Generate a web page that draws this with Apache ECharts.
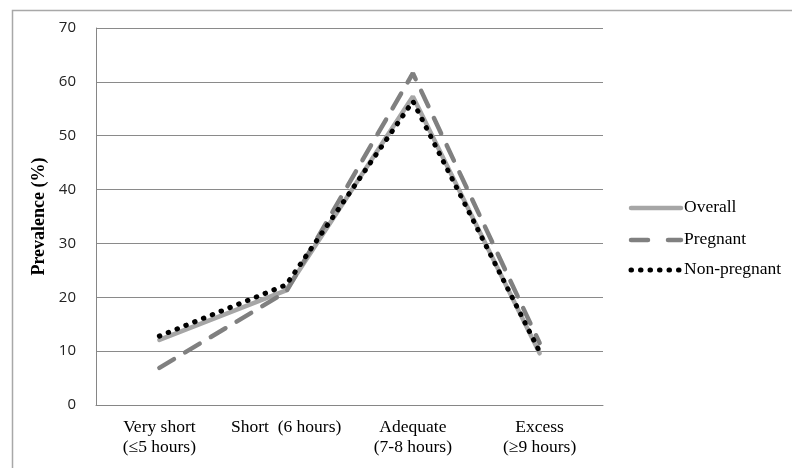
<!DOCTYPE html>
<html><head><meta charset="utf-8">
<script src="https://cdn.jsdelivr.net/npm/echarts@6/dist/echarts.min.js"></script>
<style>html,body{margin:0;padding:0;background:#fff}#c{width:792px;height:468px}</style>
</head><body><div id="c"></div>
<script>
const categories = ['Very short\n(≤5 hours)', 'Short  (6 hours)', 'Adequate\n(7-8 hours)', 'Excess\n(≥9 hours)'];
const overall = [12.1, 21.3, 57.3, 9.6];
const pregnant = [6.9, 21.0, 61.6, 11.5];
const nonPregnant = [12.8, 22.3, 56.4, 9.9];
const yTicks = [0, 10, 20, 30, 40, 50, 60, 70];
const seriesNames = ['Overall', 'Pregnant', 'Non-pregnant'];

const styles = [
  {color: '#a6a6a6', width: 4.5, type: 'solid'},
  {color: '#808080', width: 4.5, type: [17, 13]},
  {color: '#000', width: 5, type: [0.5, 9]}
];
const legendY = [208, 240, 270];

const graphics = [{
  type: 'rect', left: 10, top: 8, shape: {width: 800, height: 480},
  style: {fill: 'none', stroke: '#a8a8a8', lineWidth: 1.5}, z: -1
}];
seriesNames.forEach((n, i) => {
  graphics.push({
    type: 'line', shape: {x1: 631, y1: legendY[i], x2: 681, y2: legendY[i]},
    style: {stroke: styles[i].color, lineWidth: styles[i].width,
      lineDash: styles[i].type === 'solid' ? null : (i === 1 ? [17, 20] : [0.5, 9]), lineCap: 'round'}
  });
  graphics.push({
    type: 'text', left: 684, top: legendY[i] - 10,
    style: {text: n, font: '17.5px "Liberation Serif"', fill: '#000'}
  });
});

const chart = echarts.init(document.getElementById('c'), null, {renderer: 'canvas'});
chart.setOption({
  animation: false,
  backgroundColor: '#fff',
  graphic: graphics,
  grid: {left: 96, right: 189, top: 28, bottom: 63},
  xAxis: {
    type: 'category', data: categories, boundaryGap: true,
    axisLine: {lineStyle: {color: '#868686', width: 1}},
    axisTick: {show: false},
    axisLabel: {fontFamily: 'Liberation Serif', fontSize: 17.5, color: '#000', lineHeight: 20, margin: 12, interval: 0}
  },
  yAxis: {
    type: 'value', min: 0, max: 70, interval: 10,
    name: 'Prevalence (%)', nameLocation: 'middle', nameGap: 45,
    nameTextStyle: {fontFamily: 'Liberation Serif', fontWeight: 'bold', fontSize: 18, color: '#000'},
    axisLine: {show: true, lineStyle: {color: '#868686', width: 1}},
    axisTick: {show: false},
    axisLabel: {fontFamily: 'Open Sans', fontSize: 15, color: '#222', margin: 20,
      formatter: v => yTicks.includes(v) ? String(v) : ''},
    splitLine: {lineStyle: {color: '#8a8a8a', width: 1}}
  },
  series: [overall, pregnant, nonPregnant].map((d, i) => ({
    name: seriesNames[i], type: 'line', data: d, symbol: 'none', z: i + 1,
    itemStyle: {color: styles[i].color},
    lineStyle: {color: styles[i].color, width: styles[i].width, type: styles[i].type, cap: 'round'}
  }))
});
</script></body></html>
